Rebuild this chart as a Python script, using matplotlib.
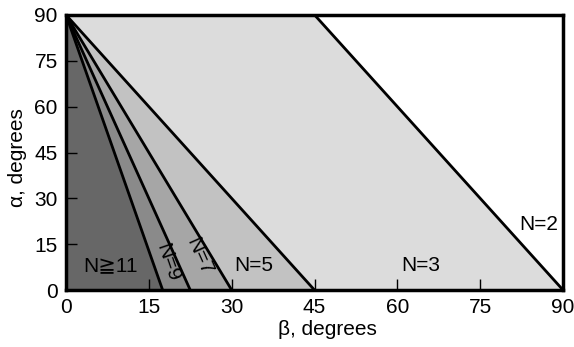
import matplotlib
matplotlib.use('Agg')
import matplotlib.pyplot as plt
import numpy as np

plt.rcParams['font.family'] = ['Liberation Sans', 'DejaVu Sans']

# region boundaries: beta where each line meets alpha=0 (all start at beta=0, alpha=90)
beta_ends = [45, 30, 22.5, 17.5]
# N=2 line: from (45, 90) to (90, 0)
n2_beta = [90, 45]
n2_alpha = [0, 90]

region_colors = ['#dcdcdc', '#c2c2c2', '#a6a6a6', '#8a8a8a', '#676767']

labels = ['N=2', 'N=3', 'N=5', 'N=7', 'N=9', 'N\u226711']
label_beta = [85.5, 64.3, 34.0, 24.2, 18.4, 8.0]
label_alpha = [21.3, 8.2, 8.0, 11.0, 9.0, 8.0]
label_rot = [0, 0, 0, -66, -71, 0]

ticks = [0, 15, 30, 45, 60, 75, 90]

fig = plt.figure(figsize=(5.74, 3.47), dpi=100)
ax = fig.add_axes([0.115, 0.164, 0.866, 0.793])

alpha = np.array([0, 90])
# outer boundary (N=2 line) as beta(alpha)
right = np.interp(alpha, n2_alpha, n2_beta)
bounds = [right] + [b * (1 - alpha / 90) for b in beta_ends] + [np.zeros(2)]
for i in range(len(bounds) - 1):
    ax.fill_betweenx(alpha, bounds[i + 1], bounds[i], color=region_colors[i], lw=0)

ax.plot(n2_beta, n2_alpha, color='black', lw=2)
for b in beta_ends:
    ax.plot([0, b], [90, 0], color='black', lw=2)

for t, x, y, r in zip(labels, label_beta, label_alpha, label_rot):
    ax.text(x, y, t, ha='center', va='center', rotation=r, fontsize=15)

ax.set_xlim(0, 90)
ax.set_ylim(0, 90)
ax.set_xticks(ticks)
ax.set_yticks(ticks)
ax.tick_params(direction='in', length=8, width=1, labelsize=15, pad=6)
for s in ax.spines.values():
    s.set_linewidth(2.5)
ax.set_xlabel('\u03b2, degrees', fontsize=15, labelpad=2, x=0.525)
ax.set_ylabel('\u03b1, degrees', fontsize=15, labelpad=5, y=0.48)

fig.savefig('out.png', dpi=100)
